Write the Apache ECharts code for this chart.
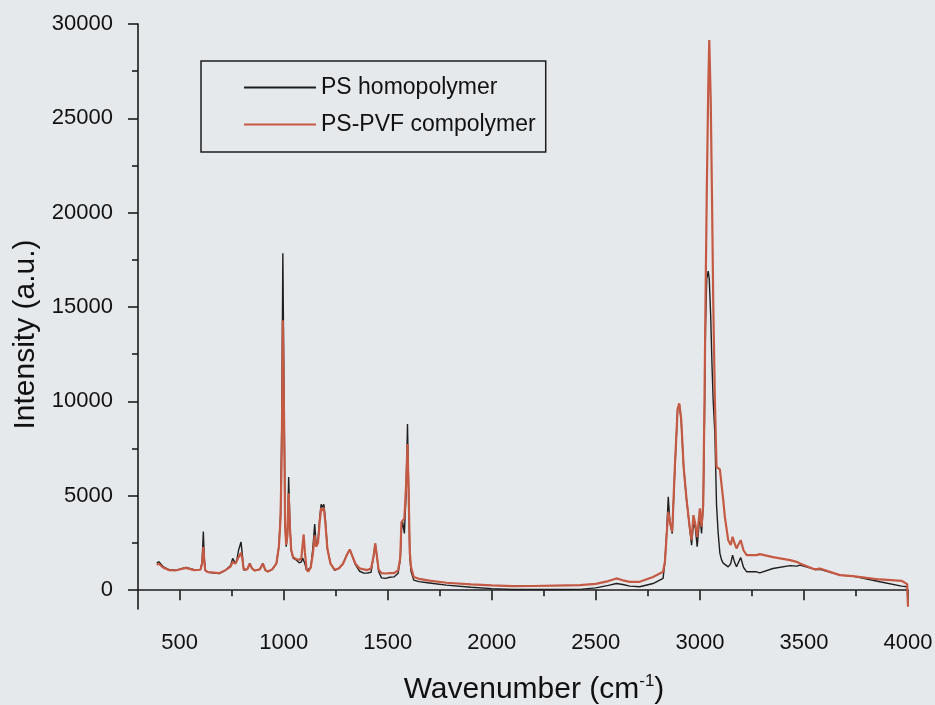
<!DOCTYPE html>
<html>
<head>
<meta charset="utf-8">
<script src="https://cdn.jsdelivr.net/npm/echarts@6/dist/echarts.min.js"></script>
<style>
html,body{margin:0;padding:0;background:#e6e9ec;}
#chart{width:935px;height:705px;}
</style>
</head>
<body>
<div id="chart"></div>
<script>
// Wavenumber (cm^-1) sample positions
var wavenumber = [390,400,420,450,480,530,570,600,608,614,618,623,635,690,720,745,755,768,775,783,795,802,808,825,837,848,861,885,900,912,924,945,965,977,985,991,996,1002,1007,1012,1018,1024,1030,1036,1045,1060,1075,1085,1091,1096,1102,1110,1118,1130,1140,1149,1156,1165,1173,1180,1186,1193,1200,1210,1225,1245,1265,1285,1305,1318,1330,1345,1365,1385,1400,1420,1432,1440,1448,1456,1470,1490,1510,1530,1550,1560,1566,1572,1580,1588,1595,1601,1606,1612,1625,1650,1700,1782,1900,2000,2100,2200,2300,2423,2500,2560,2599,2630,2663,2711,2775,2823,2832,2840,2848,2856,2867,2880,2893,2901,2910,2922,2936,2952,2960,2969,2978,2987,3000,3008,3016,3022,3027,3033,3040,3045,3052,3058,3064,3072,3080,3088,3096,3104,3112,3120,3136,3148,3157,3166,3176,3196,3210,3225,3272,3288,3351,3433,3465,3481,3553,3577,3673,3735,3865,3969,3996,4000];
// PS homopolymer intensity
var psHomo = [1450,1500,1250,1080,1050,1200,1080,1100,1500,3100,1800,1050,950,880,1050,1300,1680,1420,1600,2100,2560,1800,1060,1100,1420,1150,1030,1100,1420,1050,980,1100,1420,2300,4000,9000,17850,10000,3500,2300,3000,6000,3500,2100,1700,1600,1450,1500,1700,1750,1400,1050,975,1200,2200,3500,2400,2600,3800,4550,4400,4550,3800,2200,1400,1050,1150,1400,1900,2150,1800,1350,1000,900,900,950,1800,2450,1800,1000,650,620,680,700,900,1600,3200,3600,3000,5000,8800,5000,1800,1000,530,450,380,265,150,80,35,30,30,40,120,250,350,300,210,180,350,620,1500,3000,4950,3600,3000,6500,9600,9850,9000,6500,4770,3180,2385,3533,3300,2296,3975,3004,4500,9000,14000,16500,16900,16500,14500,12000,10000,8300,4500,3004,1960,1600,1430,1350,1235,1400,1855,1500,1235,1731,1200,971,971,918,1148,1300,1272,1325,1096,1100,795,742,442,212,180,-800];
// PS-PVF copolymer intensity
var psPvf = [1350,1400,1200,1060,1040,1180,1060,1080,1400,2300,1600,1050,960,900,1060,1250,1500,1400,1550,1750,1980,1600,1100,1100,1400,1150,1040,1100,1400,1060,990,1100,1400,2300,3800,7500,14300,9000,3400,2400,2900,5130,3300,2150,1750,1650,1600,1700,2400,2950,2000,1100,980,1200,1900,2900,2300,2500,3600,4350,4200,4350,3600,2200,1400,1080,1150,1400,1900,2150,1800,1400,1150,1100,1060,1150,1800,2480,1800,1100,900,880,900,900,1050,1700,3600,3700,3800,5500,7740,4800,2000,1230,700,600,500,390,300,250,210,220,240,265,330,480,620,520,440,440,700,970,1500,2900,4150,3600,3100,6600,9600,9900,9100,6500,4800,3250,2650,3975,3500,2826,4328,3357,4500,10000,15370,21000,26500,29150,26000,21000,15370,10070,6535,6450,6400,6300,4800,3885,2650,2385,2826,2500,2208,2650,2100,1855,1855,1908,1750,1590,1500,1413,1096,1148,795,742,565,495,318,-885];
// Axis tick values and labels
var xMajorTicks = [500,1000,1500,2000,2500,3000,3500,4000];
var xMinorTicks = [750,1250,1750,2250,2750,3250,3750];
var yMajorTicks = [0,5000,10000,15000,20000,25000,30000];
var yMinorTicks = [2500,7500,12500,17500,22500,27500];
var seriesNames = ['PS homopolymer','PS-PVF compolymer'];

function pairs(xs, ys){ return xs.map(function(x,i){ return [x, ys[i]]; }); }
function plain(v){ return String(v); }

var FONT = 'Liberation Sans, Arial, sans-serif';
var axisColor = '#1c1c1c';
var blackCol = '#1e1e1e', redCol = '#c45a44';
var chart = echarts.init(document.getElementById('chart'), null, {renderer:'canvas'});
chart.setOption({
  backgroundColor: '#e6e9ec',
  animation: false,
  grid: {left: 138, right: 27, top: 24, bottom: 96, containLabel: false, outerBoundsMode: 'none'},
  legend: {
    orient: 'vertical',
    left: 201, top: 61,
    data: [
      {name: seriesNames[0], icon: 'rect', itemStyle: {color: blackCol}},
      {name: seriesNames[1], icon: 'rect', itemStyle: {color: redCol}}
    ],
    borderColor: '#1c1c1c', borderWidth: 1.5,
    padding: [15, 10, 16, 43],
    itemWidth: 72, itemHeight: 2, itemGap: 14,
    textStyle: {fontFamily: FONT, fontSize: 23, color: '#111'}
  },
  xAxis: [{
    type: 'value', min: 300, max: 4000, position: 'bottom',
    name: '{a|Wavenumber (cm}{s|-1}{a|)}',
    nameLocation: 'middle', nameGap: 64,
    nameTextStyle: {padding: [0, 0, 0, 22], rich: {
      a: {fontFamily: FONT, fontSize: 30, color: '#111', lineHeight: 34},
      s: {fontFamily: FONT, fontSize: 17, color: '#111', verticalAlign: 'top', lineHeight: 34}
    }},
    axisLine: {show: true, lineStyle: {color: axisColor, width: 1.6}},
    axisTick: {show: true, length: 10, customValues: xMajorTicks, lineStyle: {color: axisColor, width: 1.6}},
    axisLabel: {customValues: xMajorTicks, formatter: plain, margin: 23, fontFamily: FONT, fontSize: 22, color: '#111'},
    splitLine: {show: false}
  }, {
    type: 'value', min: 300, max: 4000, position: 'bottom', offset: 0,
    axisLine: {show: false},
    axisTick: {show: true, length: 6, customValues: xMinorTicks, lineStyle: {color: axisColor, width: 1.6}},
    axisLabel: {show: false},
    splitLine: {show: false}
  }],
  yAxis: [{
    type: 'value', min: -1000, max: 30000, position: 'left',
    name: 'Intensity (a.u.)', nameLocation: 'middle', nameGap: 94, nameRotate: 90,
    nameTextStyle: {fontFamily: FONT, fontSize: 30, color: '#111', padding: [0, 36, 0, 0]},
    axisLine: {show: true, lineStyle: {color: axisColor, width: 1.6}},
    axisTick: {show: true, length: 10, customValues: yMajorTicks, lineStyle: {color: axisColor, width: 1.6}},
    axisLabel: {customValues: yMajorTicks, formatter: plain, margin: 25, fontFamily: FONT, fontSize: 22, color: '#111'},
    splitLine: {show: false}
  }, {
    type: 'value', min: -1000, max: 30000, position: 'left', offset: 0,
    axisLine: {show: false},
    axisTick: {show: true, length: 6, customValues: yMinorTicks, lineStyle: {color: axisColor, width: 1.6}},
    axisLabel: {show: false},
    splitLine: {show: false}
  }],
  series: [{
    name: seriesNames[0], type: 'line', showSymbol: false, symbol: 'none',
    data: pairs(wavenumber, psHomo),
    lineStyle: {color: blackCol, width: 1.4},
    itemStyle: {color: blackCol}
  }, {
    name: seriesNames[1], type: 'line', showSymbol: false, symbol: 'none',
    data: pairs(wavenumber, psPvf),
    lineStyle: {color: redCol, width: 2.2},
    itemStyle: {color: redCol}
  }]
});
</script>
</body>
</html>
